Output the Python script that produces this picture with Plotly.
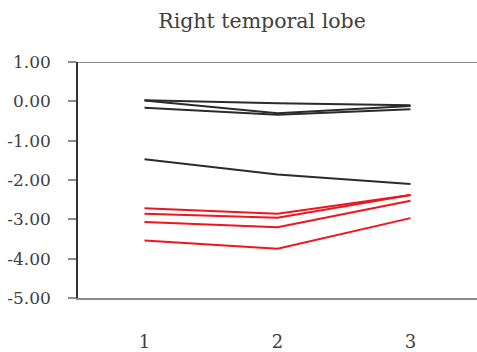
import plotly.graph_objects as go

sessions = [1, 2, 3]
black_series = [
    [0.03, -0.05, -0.10],
    [0.02, -0.30, -0.12],
    [-0.16, -0.34, -0.20],
    [-1.47, -1.86, -2.10],
]
red_series = [
    [-2.72, -2.86, -2.38],
    [-2.86, -2.96, -2.38],
    [-3.07, -3.20, -2.53],
    [-3.54, -3.75, -2.97],
]
y_ticks = [1, 0, -1, -2, -3, -4, -5]
y_tick_labels = ["1.00", "0.00", "-1.00", "-2.00", "-3.00", "-4.00", "-5.00"]
title_text = "Right temporal lobe"

fig = go.Figure()
for s in black_series:
    fig.add_trace(go.Scatter(x=sessions, y=s, mode="lines",
                             line=dict(color="#2b2b2b", width=2), showlegend=False))
for s in red_series:
    fig.add_trace(go.Scatter(x=sessions, y=s, mode="lines",
                             line=dict(color="#f0141c", width=2), showlegend=False))

font_family = "DejaVu Serif"
fig.update_layout(
    width=477, height=352,
    margin=dict(l=78, r=0, t=62, b=54),
    paper_bgcolor="white", plot_bgcolor="white",
    title=dict(text=title_text, x=262/477, xanchor="center", xref="container",
               y=1-21/352, yanchor="middle", yref="container",
               font=dict(family=font_family, size=20.5, color="#404040")),
    font=dict(family=font_family, size=17, color="#404040"),
)
fig.update_xaxes(range=[0.5, 3.5], tickvals=sessions, ticktext=[str(v) for v in sessions],
                 showgrid=False, zeroline=False, showline=True, linecolor="#8c8c8c", linewidth=2,
                 ticks="", ticklabelstandoff=26, fixedrange=True, tickfont=dict(size=18))
fig.update_yaxes(range=[-5, 1], tickvals=y_ticks, ticktext=y_tick_labels,
                 showgrid=False, zeroline=False, showline=True, linecolor="#333333", linewidth=1.5,
                 ticks="outside", ticklen=8, tickcolor="#8c8c8c", tickwidth=1.5,
                 ticklabelstandoff=14)
fig.add_shape(type="line", xref="paper", yref="y", x0=0, x1=1, y0=1, y1=1,
              line=dict(color="#8c8c8c", width=2))
fig.write_html("out.html")
